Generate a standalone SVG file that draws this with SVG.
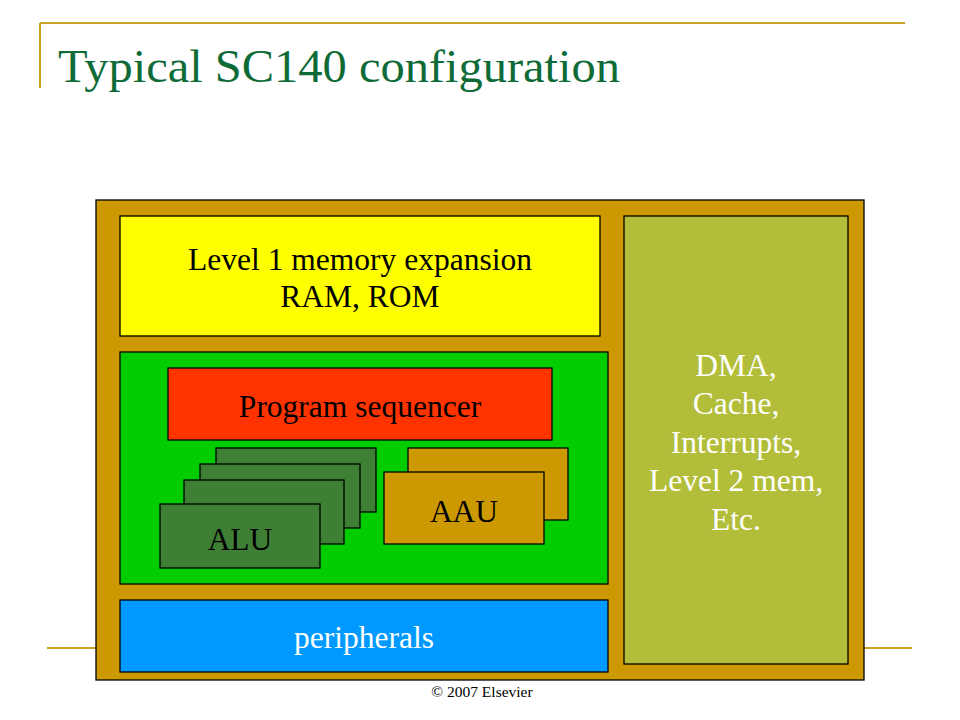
<svg xmlns="http://www.w3.org/2000/svg" width="960" height="720" viewBox="0 0 960 720">
<style>
.box{stroke:#000;stroke-width:1.3}
.t{font-family:"Liberation Serif","Times New Roman",serif;font-size:31.5px;text-anchor:middle;fill:#000}
.w{fill:#fff}
.alu{fill:#3F7F35}
.aau{fill:#CC9900}
</style>
<rect width="960" height="720" fill="#fff"/>
<g id="frame" stroke="#C9A227" stroke-width="2" fill="none">
<line x1="40" y1="23" x2="905" y2="23"/>
<line x1="40" y1="23" x2="40" y2="88"/>
<line x1="47" y1="648" x2="912" y2="648"/>
</g>
<text x="58" y="82" font-family="'Liberation Serif','Times New Roman',serif" font-size="46" fill="#0E6B37" textLength="562" lengthAdjust="spacingAndGlyphs">Typical SC140 configuration</text>
<g id="outer"><rect class="box" x="96" y="200" width="768" height="480" fill="#CC9900"/></g>
<g id="level1"><rect class="box" x="120" y="216" width="480" height="120" fill="#FFFF00"/>
<text class="t" x="360" y="270">Level 1 memory expansion</text>
<text class="t" x="360" y="307">RAM, ROM</text></g>
<g id="core"><rect class="box" x="120" y="352" width="488" height="232" fill="#00CC00"/></g>
<g id="sequencer"><rect class="box" x="168" y="368" width="384" height="72" fill="#FF3300"/>
<text class="t" x="360" y="417">Program sequencer</text></g>
<g id="alu4"><rect class="box alu" x="216" y="448" width="160" height="64"/></g>
<g id="alu3"><rect class="box alu" x="200" y="464" width="160" height="64"/></g>
<g id="alu2"><rect class="box alu" x="184" y="480" width="160" height="64"/><text class="t" x="266" y="525">ALU</text></g>
<g id="alu1"><rect class="box alu" x="160" y="504" width="160" height="64"/><text class="t" x="240" y="550">ALU</text></g>
<g id="aau2"><rect class="box aau" x="408" y="448" width="160" height="72"/></g>
<g id="aau1"><rect class="box aau" x="384" y="472" width="160" height="72"/><text class="t" x="464" y="522">AAU</text></g>
<g id="dma"><rect class="box" x="624" y="216" width="224" height="448" fill="#B2BE3A"/>
<text class="t w" x="736" y="376">DMA,</text>
<text class="t w" x="736" y="414">Cache,</text>
<text class="t w" x="736" y="453">Interrupts,</text>
<text class="t w" x="736" y="491">Level 2 mem,</text>
<text class="t w" x="736" y="530">Etc.</text></g>
<g id="peripherals"><rect class="box" x="120" y="600" width="488" height="72" fill="#0099FF"/>
<text class="t w" x="364" y="648">peripherals</text></g>
<g id="connectors"/>
<text x="482" y="697" font-family="'Liberation Serif','Times New Roman',serif" font-size="15.5" text-anchor="middle" fill="#000">© 2007 Elsevier</text>
</svg>
